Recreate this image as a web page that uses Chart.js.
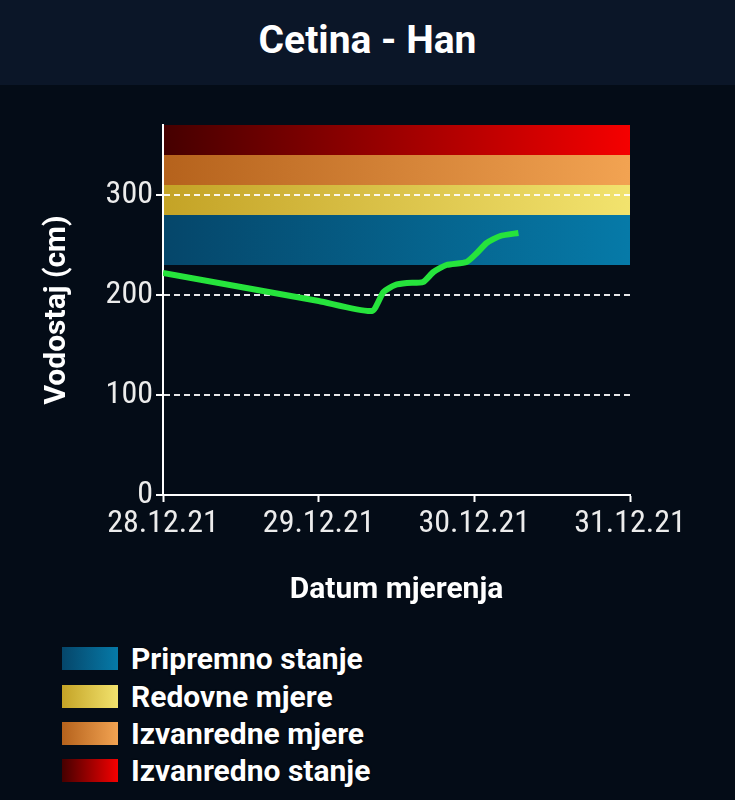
<!DOCTYPE html>
<html>
<head>
<meta charset="utf-8">
<script src="https://cdn.jsdelivr.net/npm/chart.js@4.4.0/dist/chart.umd.min.js"></script>
<style>
  body { margin: 0; width: 735px; height: 800px; overflow: hidden; background: #040c17; font-family: Roboto, sans-serif; }
  #hdr { height: 85px; background: #0b1628; color: #fff; font-weight: bold; font-size: 39px; text-align: center; line-height: 80px; }
  #wrap { position: relative; width: 735px; height: 535px; }
  #legend { position: absolute; left: 62px; top: 640px; }
  .item { display: flex; align-items: center; height: 37.4px; }
  .sw { width: 56px; height: 23px; margin-right: 13px; }
  .lbl { color: #fff; font-weight: bold; font-size: 30px; text-shadow: 0 0 2px #000; }
</style>
</head>
<body>
<div id="hdr">Cetina - Han</div>
<div id="wrap"><canvas id="myChart"></canvas></div>
<div id="legend"></div>
<script>
// hours since 28.12.21 00:00
const hours = [0, 24, 32.2, 34.0, 35.8, 37.6, 40.1, 41.7, 43.7, 46.8, 48.4, 49.9, 52.0, 54.8];
const levels = [222, 194, 184, 203, 210, 212, 213, 223, 230, 233, 242, 252, 259, 262];
const dayLabels = ['28.12.21', '29.12.21', '30.12.21', '31.12.21'];

// warning bands (cm)
const bandNames = ['Pripremno stanje', 'Redovne mjere', 'Izvanredne mjere', 'Izvanredno stanje'];
const bandFrom = [230, 280, 310, 340];
const bandTo = [280, 310, 340, 370];
const bandLeft = ['#05466a', '#c4a326', '#b5621c', '#450000'];
const bandRight = ['#067aa8', '#f2e36e', '#f2a352', '#f50000'];

const bands = {
  id: 'bands',
  beforeDraw(chart) {
    const {ctx, chartArea, scales: {y}} = chart;
    for (let i = 0; i < bandFrom.length; i++) {
      const top = y.getPixelForValue(bandTo[i]);
      const bottom = y.getPixelForValue(bandFrom[i]);
      const g = ctx.createLinearGradient(chartArea.left, 0, chartArea.right, 0);
      g.addColorStop(0, bandLeft[i]);
      g.addColorStop(1, bandRight[i]);
      ctx.fillStyle = g;
      ctx.fillRect(chartArea.left, top, chartArea.right - chartArea.left, bottom - top);
    }
  }
};

const tickFont = { family: "'Liberation Sans Narrow', 'Roboto Condensed', Roboto", size: 32 };

const chart1 = document.getElementById('myChart').getContext('2d');
const myChart = new Chart(chart1, {
  type: 'line',
  data: {
    datasets: [{
      data: hours.map((h, i) => ({ x: h, y: levels[i] })),
      borderColor: '#26e43c',
      borderWidth: 6,
      pointRadius: 0,
      tension: 0.2,
      fill: false
    }]
  },
  options: {
    responsive: true,
    maintainAspectRatio: false,
    animation: false,
    layout: { padding: { left: 35, right: 105, top: 40, bottom: 10 } },
    plugins: { legend: { display: false }, tooltip: { enabled: false } },
    scales: {
      x: {
        type: 'linear',
        min: 0,
        max: 72,
        afterFit: (s) => { s.height = 115; },
        ticks: {
          stepSize: 24,
          color: '#ececec',
          font: tickFont,
          maxRotation: 0,
          callback: (v) => dayLabels[v / 24]
        },
        grid: { drawOnChartArea: false, drawTicks: true, tickLength: 7, tickColor: '#ffffff', tickWidth: 2 },
        border: { color: '#ffffff', width: 2 },
        title: {
          display: true,
          text: 'Datum mjerenja',
          color: '#ffffff',
          font: { family: 'Roboto', size: 30, weight: 'bold' },
          padding: { top: 4, bottom: 2 }
        }
      },
      y: {
        min: 0,
        max: 370,
        afterFit: (s) => { s.width = 128; },
        afterBuildTicks: (s) => { s.ticks = s.ticks.filter(t => t.value % 100 === 0); },
        ticks: { stepSize: 100, color: '#ececec', font: tickFont, padding: 3 },
        grid: {
          color: (c) => c.tick && c.tick.value === 0 ? 'rgba(0,0,0,0)' : 'rgba(255,255,255,0.9)',
          lineWidth: 2,
          tickLength: 7,
          tickColor: '#ffffff',
          tickWidth: 2
        },
        border: { color: '#ffffff', width: 2, dash: [6, 4] },
        title: {
          display: true,
          text: 'Vodostaj (cm)',
          color: '#ffffff',
          font: { family: 'Roboto', size: 30, weight: 'bold' },
          padding: { top: 4, bottom: 4 }
        }
      }
    }
  },
  plugins: [bands]
});

const legend = document.getElementById('legend');
bandNames.forEach((name, i) => {
  const row = document.createElement('div');
  row.className = 'item';
  row.innerHTML = '<div class="sw" style="background:linear-gradient(to right,' + bandLeft[i] + ',' + bandRight[i] + ')"></div><span class="lbl">' + name + '</span>';
  legend.appendChild(row);
});
</script>
</body>
</html>
